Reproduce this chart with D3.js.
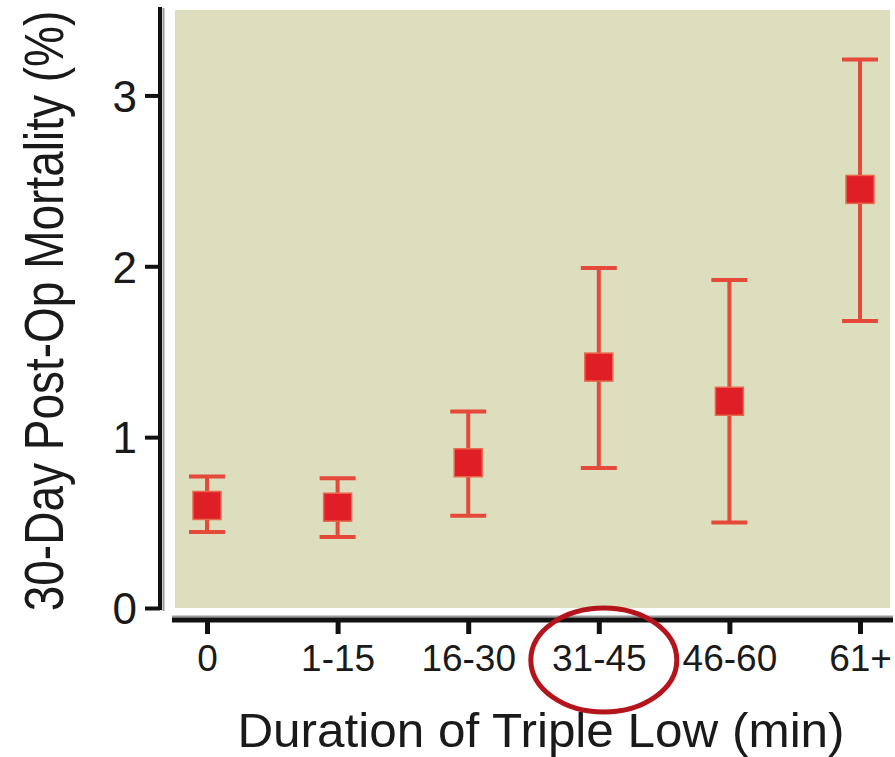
<!DOCTYPE html>
<html>
<head>
<meta charset="utf-8">
<script src="https://cdn.jsdelivr.net/npm/d3@7"></script>
<style>
  body { margin: 0; background: #fff; }
  text { font-family: "Liberation Sans", Arial, sans-serif; fill: #1a1a1a; }
</style>
</head>
<body>
<div id="chart"></div>
<script>
// categories and values
var categories = ["0", "1-15", "16-30", "31-45", "46-60", "61+"];
var mortality = [0.60, 0.59, 0.85, 1.41, 1.21, 2.45];
var ciLow = [0.445, 0.415, 0.54, 0.82, 0.50, 1.68];
var ciHigh = [0.77, 0.76, 1.15, 1.99, 1.92, 3.21];
var yTicks = [0, 1, 2, 3];
var highlighted = "31-45";

var W = 895, H = 757;

var svg = d3.select("#chart").append("svg")
    .attr("width", W)
    .attr("height", H);

var x = d3.scalePoint()
    .domain(categories)
    .range([207, 860]);

var y = d3.scaleLinear()
    .domain([0, 3.5])
    .range([608, 10]);

// plot background
svg.append("rect")
    .attr("x", 175)
    .attr("y", 10)
    .attr("width", 890 - 175)
    .attr("height", 608 - 10)
    .attr("fill", "#dddebe");

// axis shadows
svg.append("line")
    .attr("x1", 163.5).attr("x2", 163.5)
    .attr("y1", 8).attr("y2", 611)
    .attr("stroke", "#9a9a9a").attr("stroke-width", 2);
svg.append("line")
    .attr("x1", 172).attr("x2", 893)
    .attr("y1", 616.5).attr("y2", 616.5)
    .attr("stroke", "#9a9a9a").attr("stroke-width", 2);

// y axis
var yAxis = svg.append("g")
    .attr("transform", "translate(160,0)")
    .call(d3.axisLeft(y).tickValues(yTicks).tickFormat(d3.format("d"))
        .tickSize(15).tickSizeOuter(0).tickPadding(8));
yAxis.select(".domain").remove();
yAxis.selectAll(".tick line").attr("stroke", "#111").attr("stroke-width", 4);
yAxis.selectAll(".tick text")
    .attr("font-size", 44)
    .attr("font-family", "Liberation Sans, Arial, sans-serif")
    .attr("fill", "#1a1a1a")
    .attr("dy", "0.36em");
svg.append("line")
    .attr("x1", 160).attr("x2", 160)
    .attr("y1", 7).attr("y2", 610)
    .attr("stroke", "#111").attr("stroke-width", 4);

// x axis
var xAxis = svg.append("g")
    .attr("transform", "translate(0,620)")
    .call(d3.axisBottom(x).tickSize(14).tickSizeOuter(0));
xAxis.select(".domain").remove();
xAxis.selectAll(".tick line").attr("stroke", "#111").attr("stroke-width", 5);
xAxis.selectAll(".tick text")
    .attr("font-size", 37)
    .attr("font-family", "Liberation Sans, Arial, sans-serif")
    .attr("fill", "#1a1a1a")
    .attr("y", 51)
    .attr("dy", 0);
svg.append("line")
    .attr("x1", 172).attr("x2", 893)
    .attr("y1", 620).attr("y2", 620)
    .attr("stroke", "#111").attr("stroke-width", 5);

// axis titles
svg.append("text")
    .attr("x", 541)
    .attr("y", 747)
    .attr("text-anchor", "middle")
    .attr("font-size", 48)
    .attr("transform", "translate(541,747) scale(1.03,1) translate(-541,-747)")
    .text("Duration of Triple Low (min)");

svg.append("text")
    .attr("transform", "translate(63,311) rotate(-90) scale(1,1.2)")
    .attr("text-anchor", "middle")
    .attr("font-size", 46)
    .text("30-Day Post-Op Mortality (%)");

// error bars
var pts = categories.map(function(c, i) {
    return { cat: c, v: mortality[i], lo: ciLow[i], hi: ciHigh[i] };
});

var bars = svg.append("g");
var capW = 36;
bars.selectAll(".stem").data(pts).enter().append("line")
    .attr("x1", function(d) { return x(d.cat); })
    .attr("x2", function(d) { return x(d.cat); })
    .attr("y1", function(d) { return y(d.lo); })
    .attr("y2", function(d) { return y(d.hi); })
    .attr("stroke", "#e5493a").attr("stroke-width", 4);
bars.selectAll(".capHi").data(pts).enter().append("line")
    .attr("x1", function(d) { return x(d.cat) - capW / 2; })
    .attr("x2", function(d) { return x(d.cat) + capW / 2; })
    .attr("y1", function(d) { return y(d.hi); })
    .attr("y2", function(d) { return y(d.hi); })
    .attr("stroke", "#e5493a").attr("stroke-width", 4);
bars.selectAll(".capLo").data(pts).enter().append("line")
    .attr("x1", function(d) { return x(d.cat) - capW / 2; })
    .attr("x2", function(d) { return x(d.cat) + capW / 2; })
    .attr("y1", function(d) { return y(d.lo); })
    .attr("y2", function(d) { return y(d.lo); })
    .attr("stroke", "#e5493a").attr("stroke-width", 4);

// markers
var sq = 28;
bars.selectAll(".pt").data(pts).enter().append("rect")
    .attr("x", function(d) { return x(d.cat) - sq / 2; })
    .attr("y", function(d) { return y(d.v) - sq / 2; })
    .attr("width", sq)
    .attr("height", sq)
    .attr("fill", "#e01e26")
    .attr("stroke", "#e86a4e")
    .attr("stroke-width", 1.5);

// highlight ring round one label
svg.append("ellipse")
    .attr("cx", x(highlighted) + 5)
    .attr("cy", 660)
    .attr("rx", 73)
    .attr("ry", 52)
    .attr("fill", "none")
    .attr("stroke", "#b4141c")
    .attr("stroke-width", 5);
</script>
</body>
</html>
